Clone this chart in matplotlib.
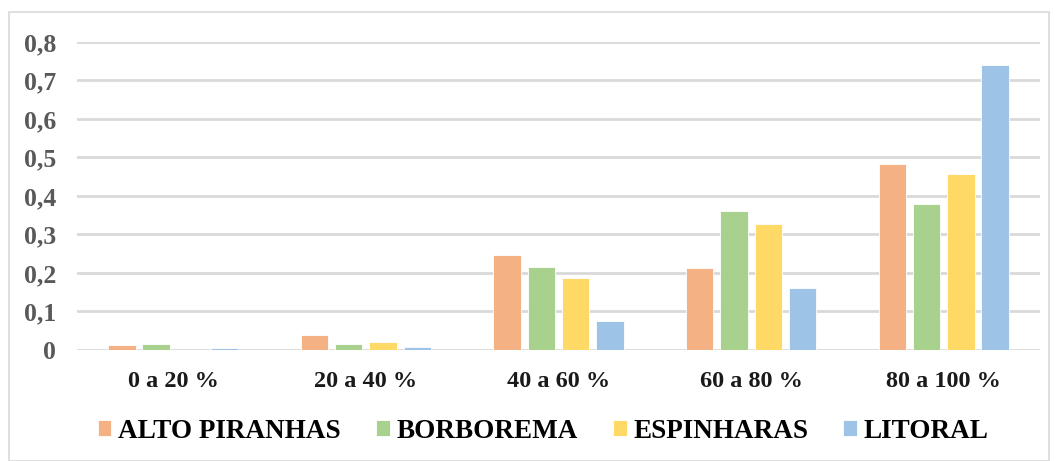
import numpy as np
import matplotlib.pyplot as plt
from matplotlib.patches import Rectangle

# faixas de percentual
categorias = ["0 a 20 %", "20 a 40 %", "40 a 60 %", "60 a 80 %", "80 a 100 %"]
regioes = ["ALTO PIRANHAS", "BORBOREMA", "ESPINHARAS", "LITORAL"]

alto_piranhas = [0.012, 0.039, 0.246, 0.214, 0.483]
borborema = [0.015, 0.016, 0.216, 0.362, 0.380]
espinharas = [0.0, 0.021, 0.187, 0.326, 0.458]
litoral = [0.006, 0.009, 0.075, 0.162, 0.741]

cores = ["#F4B183", "#A9D18E", "#FFD966", "#9DC3E6"]
yticks = [0, 0.1, 0.2, 0.3, 0.4, 0.5, 0.6, 0.7, 0.8]
ylabels = ["0", "0,1", "0,2", "0,3", "0,4", "0,5", "0,6", "0,7", "0,8"]

plt.rcParams['font.family'] = ['Liberation Serif', 'DejaVu Serif']
plt.rcParams['font.weight'] = 'bold'

fig = plt.figure(figsize=(10.57, 4.61), dpi=100)
ax = fig.add_axes([77 / 1057, 1 - 350 / 461, 963 / 1057, 308 / 461])

x = np.arange(len(categorias))
passo = 0.178
largura = 0.142
series = [alto_piranhas, borborema, espinharas, litoral]
for i, (nome, vals) in enumerate(zip(regioes, series)):
    ax.bar(x + (i - 1.5) * passo, vals, largura, color=cores[i],
           edgecolor="white", linewidth=0.6, label=nome, zorder=3)

ax.set_xlim(-0.5, 4.5)
ax.set_ylim(0, 0.8)
ax.set_yticks(yticks)
ax.set_yticklabels(ylabels)
ax.set_xticks(x)
ax.set_xticklabels(categorias)
ax.tick_params(axis="y", length=0, pad=15, labelsize=18.5, labelcolor="#595959")
ax.tick_params(axis="x", length=0, pad=15, labelsize=17.5, labelcolor="#1a1a1a")
ax.grid(axis="y", color="#D9D9D9", linewidth=2, zorder=0)
ax.set_axisbelow(True)
for s in ax.spines.values():
    s.set_visible(False)

leg = fig.legend(loc="center", bbox_to_anchor=(0.514, 1 - 431 / 461), ncol=4,
                 frameon=False, fontsize=19.5, handlelength=0.5, handleheight=0.5,
                 handletextpad=0.25, columnspacing=1.3)

# moldura do grafico
fig.patches.append(Rectangle((9 / 1057, 0), 1040 / 1057, 1 - 12 / 461,
                             transform=fig.transFigure, fill=False,
                             edgecolor="#D9D9D9", linewidth=1.2))

fig.savefig("out.png", dpi=100)
